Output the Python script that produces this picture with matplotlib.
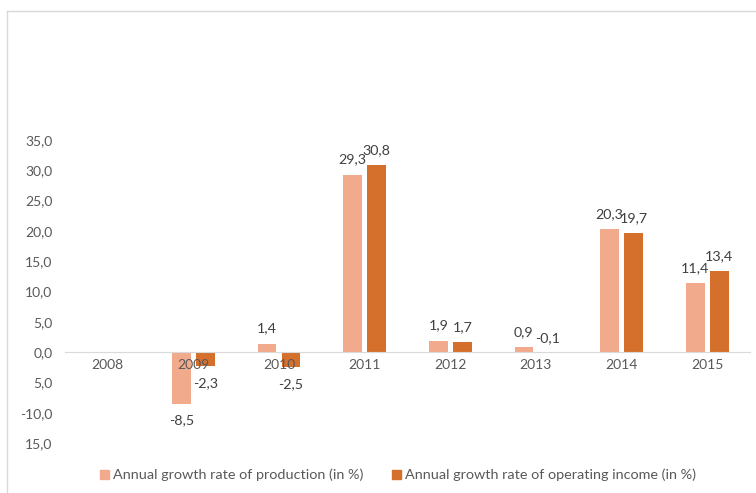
import numpy as np
import matplotlib.pyplot as plt
from matplotlib.patches import Patch
from matplotlib.lines import Line2D

plt.rcParams['font.family'] = ['Lato', 'DejaVu Sans']

# 数据
years = ['2008', '2009', '2010', '2011', '2012', '2013', '2014', '2015']
production = [np.nan, -8.5, 1.4, 29.3, 1.9, 0.9, 20.3, 11.4]
operating = [np.nan, -2.3, -2.5, 30.8, 1.7, -0.1, 19.7, 13.4]
y_ticks = [-15, -10, -5, 0, 5, 10, 15, 20, 25, 30, 35]
y_tick_labels = ['15,0', '-10,0', '5,0', '0,0', '5,0', '10,0', '15,0',
                 '20,0', '25,0', '30,0', '35,0']
names = ['Annual growth rate of production (in %)',
         'Annual growth rate of operating income (in %)']

c_prod = '#F2AA8C'
c_oper = '#D4702C'
txt_dark = '#404040'
txt_gray = '#595959'

fig = plt.figure(figsize=(7.56, 4.93), dpi=100)
ax = fig.add_axes([0.086, 0.1014, 0.906, 0.6146])

x = np.arange(len(years))
w = 0.22
off = 0.14
ax.bar(x - off, production, w, color=c_prod)
ax.bar(x + off, operating, w, color=c_oper)

# 数据标签
def fmt(v):
    return f'{v:.1f}'.replace('.', ',')

for xs, vals in [(x - off, production), (x + off, operating)]:
    for xi, v in zip(xs, vals):
        if np.isnan(v):
            continue
        dy = 15 if v > -1 else -17
        ax.annotate(fmt(v), (xi, v), xytext=(0, dy), textcoords='offset pixels',
                    ha='center', va='center', fontsize=10.3, color=txt_dark)

ax.set_xlim(-0.5, len(years) - 0.5)
ax.set_ylim(-15, 35)
ax.set_yticks(y_ticks)
ax.set_yticklabels(y_tick_labels)
ax.set_xticks(x)
ax.set_xticklabels(years)

for s in ['top', 'right', 'left']:
    ax.spines[s].set_visible(False)
ax.spines['bottom'].set_position(('data', 0))
ax.spines['bottom'].set_color('#D9D9D9')
ax.tick_params(axis='x', length=0, pad=5, labelsize=10, labelcolor=txt_gray)
ax.tick_params(axis='y', length=0, pad=9, labelsize=10, labelcolor=txt_gray)

# 图例
handles = [Patch(color=c_prod), Patch(color=c_oper)]
fig.legend(handles, names, loc='center', bbox_to_anchor=(398 / 756, 1 - 475 / 493),
           ncol=2, frameon=False, fontsize=10.4, handlelength=0.6, handleheight=0.6,
           handletextpad=0.3, columnspacing=2.0, labelcolor=txt_gray)

# 外框
fig.add_artist(Line2D([6.5 / 756, 6.5 / 756], [0, 1 - 10.5 / 493],
                      transform=fig.transFigure, color='#D9D9D9', lw=1))
fig.add_artist(Line2D([6.5 / 756, 1], [1 - 10.5 / 493, 1 - 10.5 / 493],
                      transform=fig.transFigure, color='#D9D9D9', lw=1))

fig.savefig('out.png', dpi=100)
